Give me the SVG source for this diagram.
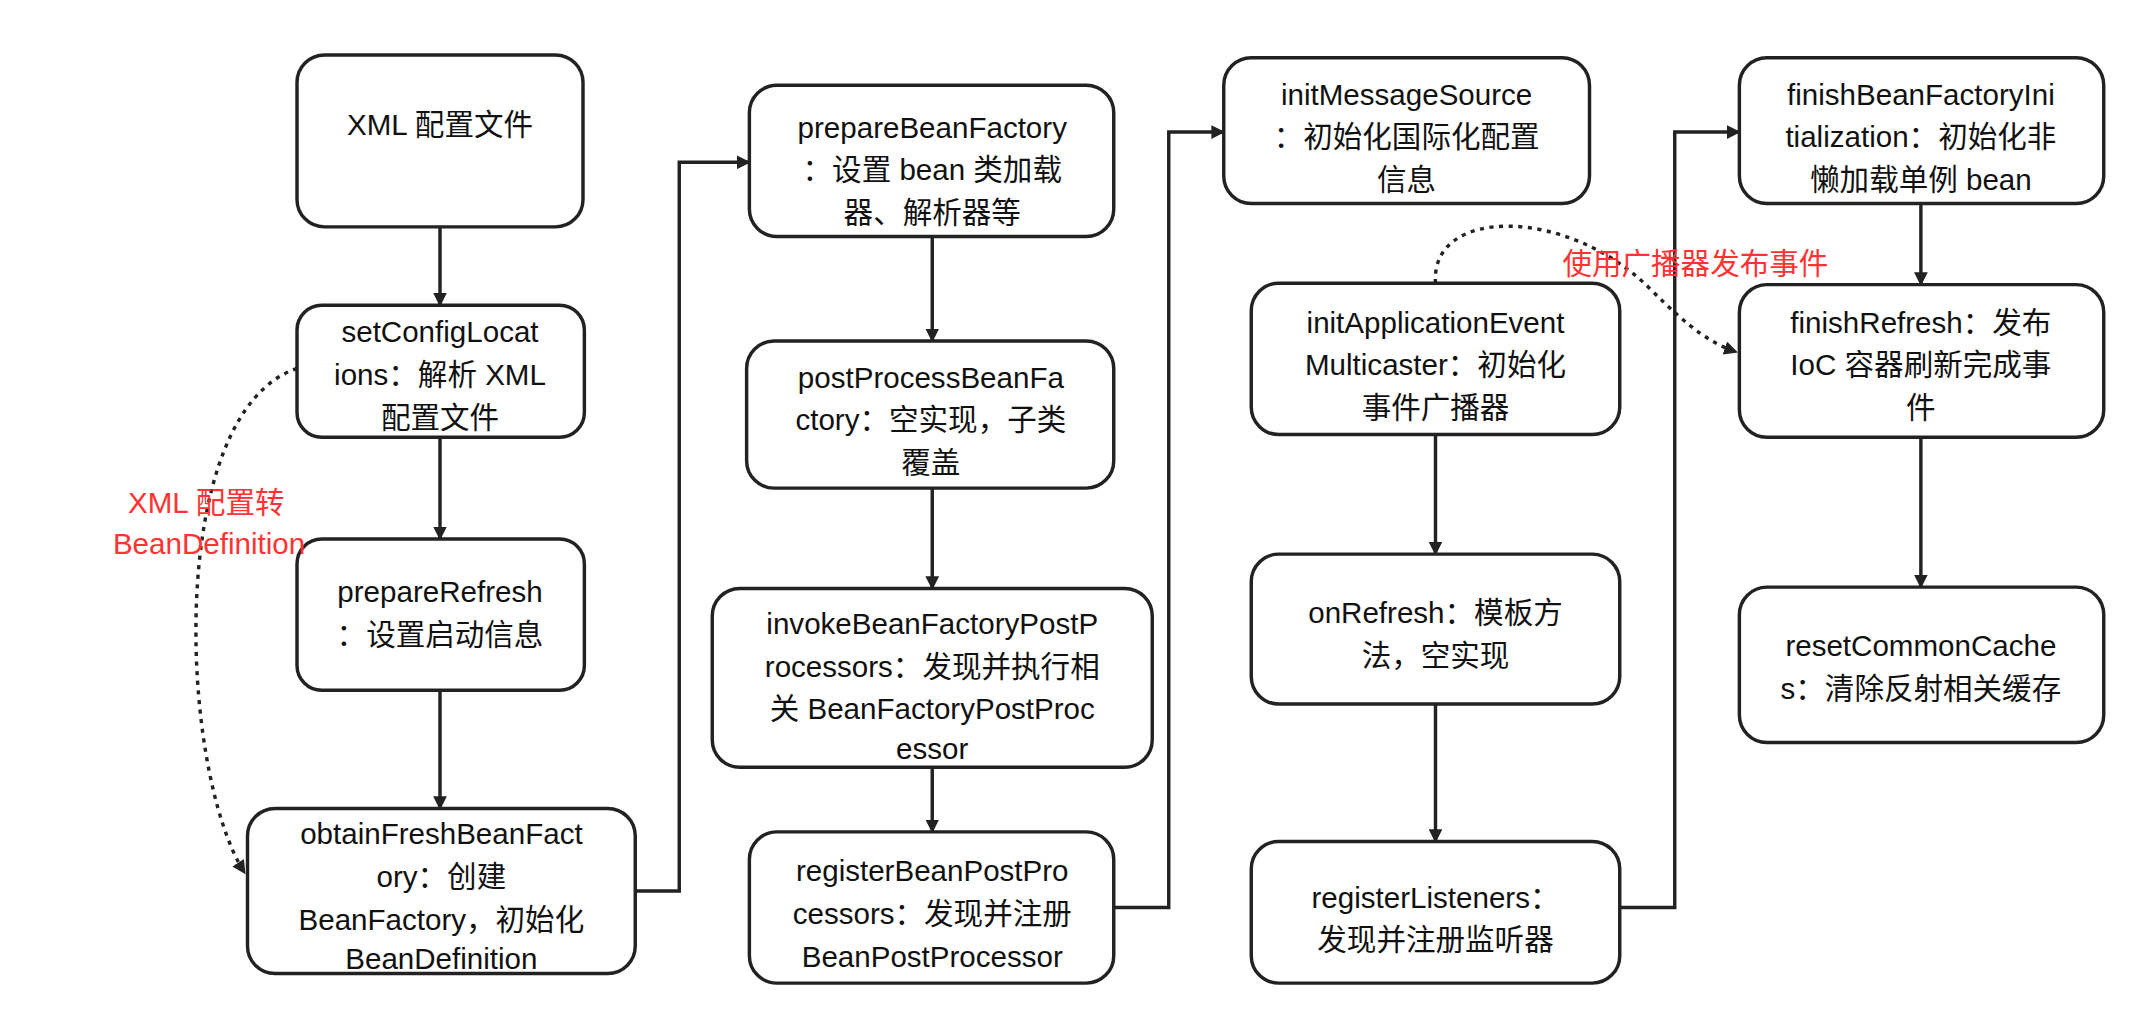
<svg xmlns="http://www.w3.org/2000/svg" width="2156" height="1036" viewBox="0 0 2156 1036">
<defs>
<style>
.n rect{fill:#fff;stroke:#222;stroke-width:2.5}
text{font-family:"Liberation Sans","Noto Sans CJK SC",sans-serif;font-size:21.5px;fill:#111;text-anchor:middle}
.r{fill:#ff3333}
.c path{fill:none;stroke:#222;stroke-width:2.5}
.c path.d{stroke-dasharray:3 4}
</style>
<marker id="a" viewBox="0 0 10 10" refX="9" refY="5" markerWidth="10" markerHeight="10" markerUnits="userSpaceOnUse" orient="auto"><path d="M0,0L10,5L0,10z" fill="#222"/></marker>
</defs>
<rect width="2156" height="1036" fill="#fff"/>
<g transform="scale(1.375)">
<g class="c">
<path d="M320,165V222" marker-end="url(#a)"/>
<path d="M320,318V392" marker-end="url(#a)"/>
<path d="M320,502V588" marker-end="url(#a)"/>
<path d="M462,648H494V118H545" marker-end="url(#a)"/>
<path d="M678,172V248" marker-end="url(#a)"/>
<path d="M678,355V428" marker-end="url(#a)"/>
<path d="M678,558V605" marker-end="url(#a)"/>
<path d="M810,660H850V96H890" marker-end="url(#a)"/>
<path d="M1044,316V403" marker-end="url(#a)"/>
<path d="M1044,512V612" marker-end="url(#a)"/>
<path d="M1178,660H1218V96H1265" marker-end="url(#a)"/>
<path d="M1397,148V207" marker-end="url(#a)"/>
<path d="M1397,318V427" marker-end="url(#a)"/>
<path class="d" d="M216,268C120,300 130,560 178,635" marker-end="url(#a)"/>
<path class="d" d="M1044,206C1040,150 1140,150 1200,210C1230,240 1245,250 1263,256" marker-end="url(#a)"/>
</g>
<g id="xml" class="n"><rect x="216" y="40" width="208" height="125" rx="20"/><text x="320" y="98">XML 配置文件</text></g>
<g id="setConfig" class="n"><rect x="216" y="222" width="209" height="96" rx="18"/><text x="320" y="249">setConfigLocat</text><text x="320" y="280">ions：解析 XML</text><text x="320" y="311">配置文件</text></g>
<g id="prepareRefresh" class="n"><rect x="216" y="392" width="209" height="110" rx="18"/><text x="320" y="438">prepareRefresh</text><text x="320" y="469">：设置启动信息</text></g>
<g id="obtain" class="n"><rect x="180" y="588" width="282" height="120" rx="20"/><text x="321" y="614">obtainFreshBeanFact</text><text x="321" y="645">ory：创建</text><text x="321" y="676">BeanFactory，初始化</text><text x="321" y="705">BeanDefinition</text></g>
<g id="prepareBF" class="n"><rect x="545" y="62" width="265" height="110" rx="20"/><text x="678" y="100">prepareBeanFactory</text><text x="678" y="131">：设置 bean 类加载</text><text x="678" y="162">器、解析器等</text></g>
<g id="postProcess" class="n"><rect x="543" y="248" width="267" height="107" rx="20"/><text x="677" y="282">postProcessBeanFa</text><text x="677" y="313">ctory：空实现，子类</text><text x="677" y="344">覆盖</text></g>
<g id="invoke" class="n"><rect x="518" y="428" width="320" height="130" rx="20"/><text x="678" y="461">invokeBeanFactoryPostP</text><text x="678" y="492">rocessors：发现并执行相</text><text x="678" y="523">关 BeanFactoryPostProc</text><text x="678" y="552">essor</text></g>
<g id="registerBPP" class="n"><rect x="545" y="605" width="265" height="110" rx="20"/><text x="678" y="641">registerBeanPostPro</text><text x="678" y="672">cessors：发现并注册</text><text x="678" y="703">BeanPostProcessor</text></g>
<g id="initMsg" class="n"><rect x="890" y="42" width="266" height="106" rx="20"/><text x="1023" y="76">initMessageSource</text><text x="1023" y="107">：初始化国际化配置</text><text x="1023" y="138">信息</text></g>
<g id="initEvent" class="n"><rect x="910" y="206" width="268" height="110" rx="20"/><text x="1044" y="242">initApplicationEvent</text><text x="1044" y="273">Multicaster：初始化</text><text x="1044" y="304">事件广播器</text></g>
<g id="onRefresh" class="n"><rect x="910" y="403" width="268" height="109" rx="20"/><text x="1044" y="453">onRefresh：模板方</text><text x="1044" y="484">法，空实现</text></g>
<g id="registerL" class="n"><rect x="910" y="612" width="268" height="103" rx="20"/><text x="1044" y="660">registerListeners：</text><text x="1044" y="691">发现并注册监听器</text></g>
<g id="finishBFI" class="n"><rect x="1265" y="42" width="265" height="106" rx="20"/><text x="1397" y="76">finishBeanFactoryIni</text><text x="1397" y="107">tialization：初始化非</text><text x="1397" y="138">懒加载单例 bean</text></g>
<g id="finishRefresh" class="n"><rect x="1265" y="207" width="265" height="111" rx="20"/><text x="1397" y="242">finishRefresh：发布</text><text x="1397" y="273">IoC 容器刷新完成事</text><text x="1397" y="304">件</text></g>
<g id="reset" class="n"><rect x="1265" y="427" width="265" height="113" rx="20"/><text x="1397" y="477">resetCommonCache</text><text x="1397" y="508">s：清除反射相关缓存</text></g>
<text class="r" x="150" y="373">XML 配置转</text><text class="r" x="152" y="403">BeanDefinition</text>
<text class="r" x="1233" y="199">使用广播器发布事件</text>
</g>
</svg>
